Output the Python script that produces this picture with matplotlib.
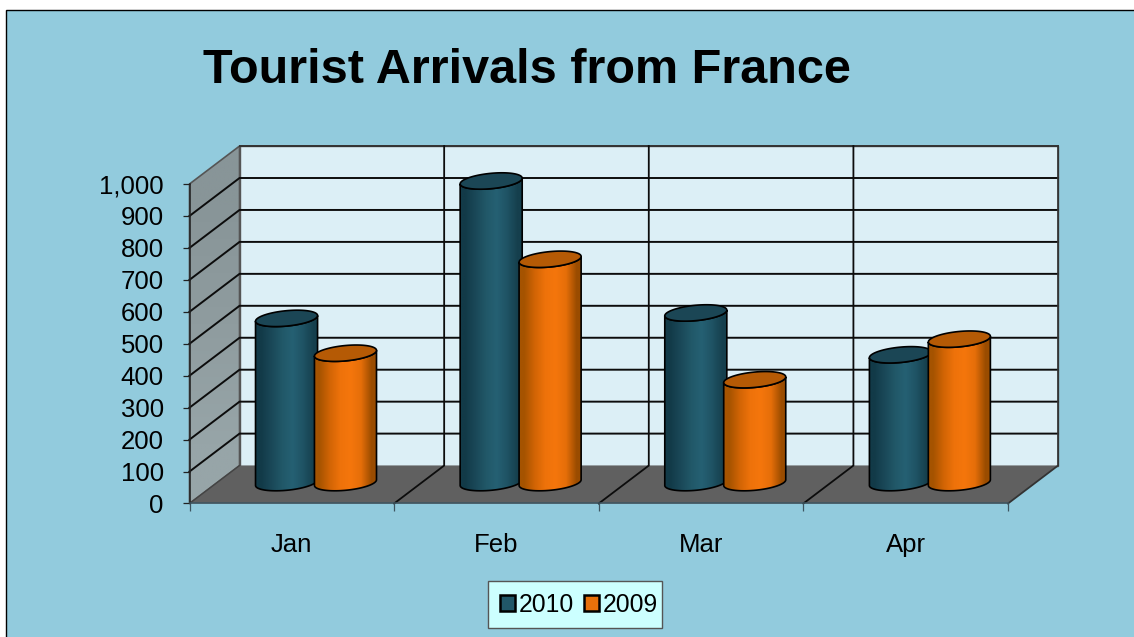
import matplotlib
matplotlib.use("Agg")
import numpy as np
import matplotlib.pyplot as plt
from matplotlib.colors import to_rgb
from matplotlib.patches import Patch, Polygon, Rectangle
from matplotlib.ticker import FuncFormatter

plt.rcParams["font.family"] = ["Liberation Sans", "DejaVu Sans"]

# data
months = ["Jan", "Feb", "Mar", "Apr"]
arrivals_2010 = [520, 950, 537, 406]
arrivals_2009 = [411, 705, 328, 455]
y_ticks = list(range(0, 1001, 100))
title = "Tourist Arrivals from France"

W, H = 1134, 637

# colours
BG = "#92CBDD"
WALL = "#DCEFF6"
FLOOR = "#606060"
LINE = "#0c0c0c"
TEAL_STOPS = ["#123a48", "#1a4858", "#215868", "#256073", "#1f5364", "#153f4d"]
ORANGE_STOPS = ["#a55300", "#d16405", "#ee720a", "#f5760c", "#e56e09", "#9a4c00"]
TEAL_TOP = "#1b4655"
ORANGE_TOP = "#b55a05"
TEAL_KEY = "#215768"
ORANGE_KEY = "#e8700a"

# fake 3D geometry: one category is 204.5 px wide, 100 units are 32 px high
CAT_PX = 204.5
UNIT_PX = 0.32
DEPTH_X = 50 / CAT_PX
DEPTH_Y = 38 / UNIT_PX
BAR_HALF = 31 / CAT_PX
ELL_B = 7.7 / UNIT_PX
ELL_TILT = 2.85 / UNIT_PX
BASE = 6.0
OFFSET_2010 = 0.352
OFFSET_2009 = 0.64

fig = plt.figure(figsize=((W + 0.01) / 100, (H + 0.01) / 100), dpi=100, facecolor="white")
fig.patches.append(Rectangle((6 / W, -0.01), 1.01 - 6 / W, 1.01 - 10.5 / H, transform=fig.transFigure,
                             facecolor=BG, edgecolor="black", linewidth=1.0, figure=fig, zorder=-5))

ax = fig.add_axes([189.5 / W, 1 - 503.5 / H, 818.5 / W, 319.5 / H])
ax.patch.set_visible(False)
n = len(months)
ax.set_xlim(0, n)
ax.set_ylim(0, y_ticks[-1])

top = y_ticks[-1]


def gradient(stops, x0, x1, y0, y1, clip, zorder, vertical=False):
    rgb = np.array([to_rgb(c) for c in stops])
    if vertical:
        rgb = rgb[:, None, :]
    else:
        rgb = rgb[None, :, :]
    im = ax.imshow(rgb, extent=(x0, x1, y0, y1), aspect="auto", interpolation="bilinear",
                   origin="lower", zorder=zorder)
    im.set_clip_path(clip)
    im.set_clip_box(fig.bbox)


# back wall, side wall, floor
ax.add_patch(Polygon([(DEPTH_X, DEPTH_Y), (n + DEPTH_X, DEPTH_Y), (n + DEPTH_X, top + DEPTH_Y), (DEPTH_X, top + DEPTH_Y)],
                     facecolor=WALL, edgecolor="#555555", linewidth=1.0, clip_on=False, zorder=1))
side = Polygon([(0, 0), (DEPTH_X, DEPTH_Y), (DEPTH_X, top + DEPTH_Y), (0, top)],
               facecolor="none", edgecolor="#555555", linewidth=1.2, clip_on=False, zorder=1.2)
ax.add_patch(side)
gradient(["#97a5a8", "#8f9c9f", "#889598"], 0, DEPTH_X, 0, top + DEPTH_Y, side, 1.1, vertical=True)
ax.add_patch(Polygon([(0, 0), (n, 0), (n + DEPTH_X, DEPTH_Y), (DEPTH_X, DEPTH_Y)],
                     facecolor=FLOOR, edgecolor="none", clip_on=False, zorder=1.3))

# gridlines
for v in y_ticks[1:-1]:
    ax.plot([0, DEPTH_X, n + DEPTH_X], [v, v + DEPTH_Y, v + DEPTH_Y], color=LINE, lw=1.4,
            clip_on=False, zorder=1.5, solid_joinstyle="miter")
ax.plot([DEPTH_X, n + DEPTH_X], [top + DEPTH_Y, top + DEPTH_Y], color="#333333", lw=1.4, clip_on=False, zorder=1.5)
for i in range(1, n + 1):
    ax.plot([i, i + DEPTH_X, i + DEPTH_X], [0, DEPTH_Y, top + DEPTH_Y], color=LINE if i < n else "#333333", lw=1.3,
            clip_on=False, zorder=1.5, solid_joinstyle="miter")
ax.plot([0, DEPTH_X], [0, DEPTH_Y], color="#444444", lw=1.0, clip_on=False, zorder=1.5)


def cylinder(x, value, stops, top_color, zorder):
    xc = x + DEPTH_X / 2
    yc = value + DEPTH_Y / 2
    y_base = BASE + DEPTH_Y / 2
    t = np.linspace(np.pi, 2 * np.pi, 60)
    ex = BAR_HALF * np.cos(t)
    ey = ELL_B * np.sin(t) + ELL_TILT * np.cos(t)
    body_x = np.r_[xc + ex, xc + ex[::-1]]
    body_y = np.r_[yc + ey, y_base + ey[::-1]]
    body = Polygon(np.c_[body_x, body_y], facecolor="none", edgecolor="black", linewidth=1.2,
                   clip_on=False, zorder=zorder + 0.1)
    ax.add_patch(body)
    gradient(stops, xc - BAR_HALF, xc + BAR_HALF, y_base - 60, yc + 60, body, zorder)
    t2 = np.linspace(0, 2 * np.pi, 120)
    cap_x = xc + BAR_HALF * np.cos(t2)
    cap_y = yc + ELL_B * np.sin(t2) + ELL_TILT * np.cos(t2)
    ax.add_patch(Polygon(np.c_[cap_x, cap_y], facecolor=top_color, edgecolor="black", linewidth=1.2,
                         clip_on=False, zorder=zorder + 0.2))


for i in range(n):
    cylinder(i + OFFSET_2010, arrivals_2010[i], TEAL_STOPS, TEAL_TOP, 2 + i)
    cylinder(i + OFFSET_2009, arrivals_2009[i], ORANGE_STOPS, ORANGE_TOP, 2.5 + i)

# axes, ticks, labels
for s in ("top", "right"):
    ax.spines[s].set_visible(False)
ax.spines["left"].set_color("#222222")
ax.spines["left"].set_linewidth(1.1)
ax.spines["bottom"].set_color("#3d5560")
ax.spines["bottom"].set_linewidth(1.1)
ax.set_yticks(y_ticks)
ax.yaxis.set_major_formatter(FuncFormatter(lambda v, p: f"{int(v):,}"))
ax.tick_params(axis="y", labelsize=18.5, length=5, width=0.9, color="#222222", pad=13.5)
ax.set_xticks(range(n + 1))
ax.set_xticklabels([])
ax.tick_params(axis="x", which="major", length=5.5, width=0.9, color="#3d5560")
ax.set_xticks(np.arange(n) + 0.5, minor=True)
ax.set_xticklabels(months, minor=True)
ax.tick_params(axis="x", which="minor", labelsize=18.5, length=0, pad=21.5)

fig.text(203 / W, 1 - 82.5 / H, title, fontsize=35.05, fontweight="bold", ha="left", va="baseline")

# legend box is drawn apart because its right padding is narrower than the left one
fig.patches.append(Rectangle((488 / W, 1 - 628.5 / H), 174 / W, 47.5 / H, transform=fig.transFigure,
                             facecolor="#CCFFFF", edgecolor="#555555", linewidth=1.0, figure=fig, zorder=4))
handles = [Patch(facecolor=TEAL_KEY, edgecolor="black", linewidth=1.8, label="2010"),
           Patch(facecolor=ORANGE_KEY, edgecolor="black", linewidth=1.8, label="2009")]
leg = fig.legend(handles=handles, ncol=2, loc="lower left", bbox_to_anchor=(488 / W, 1 - 629 / H),
                 bbox_transform=fig.transFigure, fontsize=17.8, frameon=False, handlelength=0.6, handleheight=0.6,
                 handletextpad=0.14, columnspacing=0.42, borderpad=0.5, borderaxespad=0)

fig.savefig("out.png", dpi=100, facecolor="white")
